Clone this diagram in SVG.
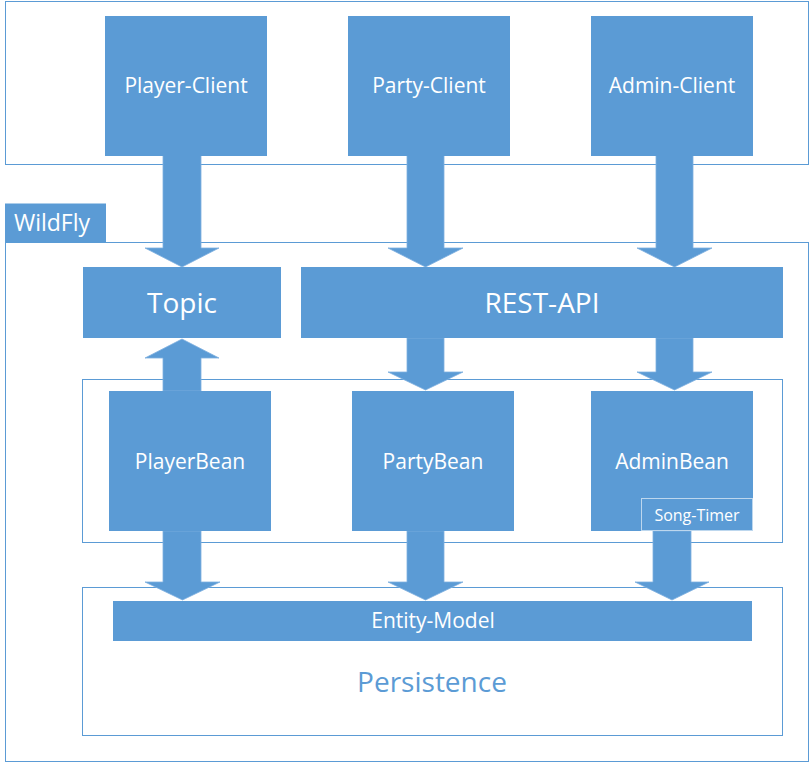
<svg xmlns="http://www.w3.org/2000/svg" width="811" height="764" viewBox="0 0 811 764">
<style>
.frame{fill:#ffffff;stroke:#5b9bd5;stroke-width:1}
.box{fill:#5b9bd5;stroke:#5b9bd5;stroke-width:1}
.arrow{fill:#5b9bd5;stroke:#7fb0df;stroke-width:0.8}
.t{font-family:"Open Sans","Noto Sans",sans-serif;fill:#ffffff;text-anchor:middle;dominant-baseline:central}
.m{font-size:21px}
.l{font-size:28px}
.s{font-size:16px}
</style>
<rect width="811" height="764" fill="#ffffff"/>
<g id="clients-frame"><rect class="frame" x="5.5" y="1.5" width="803" height="163"/></g>
<g id="wildfly-frame"><rect class="frame" x="5.5" y="242.5" width="803" height="519"/></g>
<g id="wildfly-label"><rect class="box" x="5.5" y="204" width="100" height="38"/><text class="t" x="52" y="222" style="font-size:23px">WildFly</text></g>
<g id="beans-frame"><rect class="frame" x="82.5" y="379.5" width="700" height="163"/></g>
<g id="persistence"><rect class="frame" x="82.5" y="587.5" width="700" height="148"/><text x="432" y="681" style="font-family:'Open Sans','Noto Sans',sans-serif;font-size:28px;fill:#5b9bd5;text-anchor:middle;dominant-baseline:central">Persistence</text></g>
<g id="connectors">
<polygon class="arrow" points="163,155 201,155 201,248 219,248 182,267 145,248 163,248"/>
<polygon class="arrow" points="407,155 444,155 444,248 463,248 425.5,267 388,248 407,248"/>
<polygon class="arrow" points="656,155 693,155 693,248 712,248 674.5,267 637,248 656,248"/>
<polygon class="arrow" points="407,338 444,338 444,372 463,372 425.5,390 388,372 407,372"/>
<polygon class="arrow" points="656,338 693,338 693,372 712,372 674.5,390 637,372 656,372"/>
<polygon class="arrow" points="163,391 201,391 201,358 219,358 182,339 145,358 163,358"/>
<polygon class="arrow" points="163,531 201,531 201,582 220,582 182.5,600 145,582 163,582"/>
<polygon class="arrow" points="407,531 444,531 444,582 463,582 425.5,600 388,582 407,582"/>
<polygon class="arrow" points="653,531 691,531 691,582 709,582 672,600 635,582 653,582"/>
</g>
<g id="player-client"><rect class="box" x="105.5" y="16.5" width="161" height="139"/><text class="t m" x="186" y="85">Player-Client</text></g>
<g id="party-client"><rect class="box" x="348.5" y="16.5" width="161" height="139"/><text class="t m" x="429" y="85">Party-Client</text></g>
<g id="admin-client"><rect class="box" x="591.5" y="16.5" width="161" height="139"/><text class="t m" x="672" y="85">Admin-Client</text></g>
<g id="topic"><rect class="box" x="83.5" y="267.5" width="197" height="70"/><text class="t l" x="182" y="302">Topic</text></g>
<g id="rest-api"><rect class="box" x="301.5" y="267.5" width="481" height="70"/><text class="t l" x="542" y="302">REST-API</text></g>
<g id="player-bean"><rect class="box" x="109.5" y="391.5" width="161" height="139"/><text class="t m" x="190" y="461">PlayerBean</text></g>
<g id="party-bean"><rect class="box" x="352.5" y="391.5" width="161" height="139"/><text class="t m" x="433" y="461">PartyBean</text></g>
<g id="admin-bean"><rect class="box" x="591.5" y="391.5" width="161" height="139"/><text class="t m" x="672" y="461">AdminBean</text></g>
<g id="song-timer"><rect x="641.5" y="498.5" width="111" height="32" fill="#5b9bd5" stroke="#bdd7ee" stroke-width="1"/><text class="t s" x="697" y="515">Song-Timer</text></g>
<g id="entity-model"><rect class="box" x="113.5" y="601.5" width="638" height="39"/><text class="t m" x="433" y="620">Entity-Model</text></g>
</svg>
